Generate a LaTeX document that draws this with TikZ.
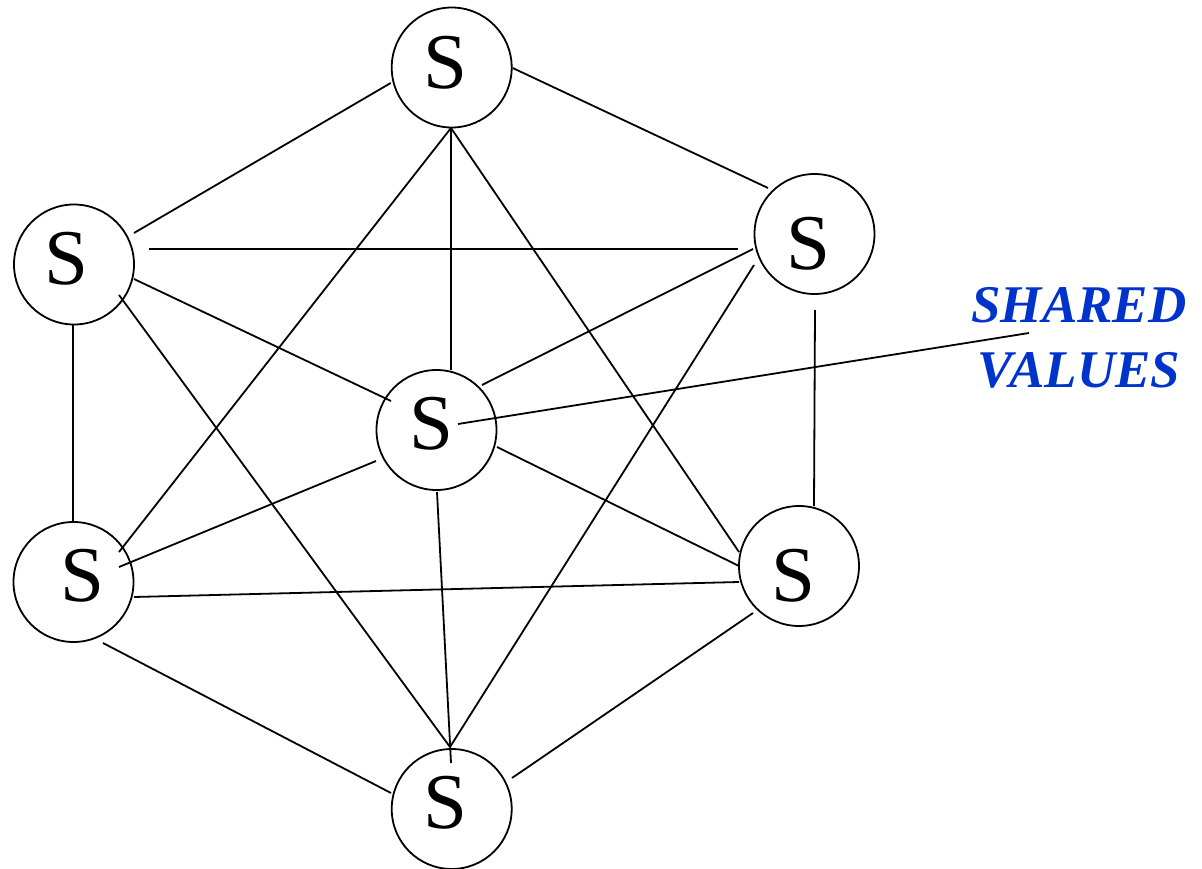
\documentclass[tikz,border=0pt]{standalone}
\usepackage{fontspec}
\setmainfont{Liberation Serif}
\definecolor{labblue}{RGB}{0,51,204}
\begin{document}
\begin{tikzpicture}[x=1pt,y=-1pt,
  sn/.style={circle,draw,line width=1.8pt,minimum size=120pt,inner sep=0pt},
  stxt/.style={font=\fontsize{79}{79}\selectfont,inner sep=0pt},
  edge/.style={line width=1.8pt},
]
\useasboundingbox (0,0) rectangle (1202,869);
% nodes
\node[sn,label={[stxt,xshift=-6.7pt,yshift=4.5pt]center:S}] (t) at (451.7,67.5) {};
\node[sn,label={[stxt,xshift=-7.5pt,yshift=6pt]center:S}] (ul) at (74,264.5) {};
\node[sn,label={[stxt,xshift=-6.5pt,yshift=-10pt]center:S}] (ur) at (814.5,234) {};
\node[sn,label={[stxt,xshift=-5.5pt,yshift=6pt]center:S}] (c) at (436.5,430) {};
\node[sn,label={[stxt,xshift=9pt,yshift=6pt]center:S}] (ll) at (73.5,582) {};
\node[sn,label={[stxt,xshift=-6pt,yshift=-10pt]center:S}] (lr) at (799,566) {};
\node[sn,label={[stxt,xshift=-6.7pt,yshift=6pt]center:S}] (b) at (451.7,809) {};
% edges
\draw[edge] ([shift={(-61,15.5)}]t.center) -- ([shift={(60,-31.5)}]ul.center);
\draw[edge] ([shift={(61,0.5)}]t.center) -- ([shift={(-46.5,-46)}]ur.center);
\draw[edge] ([shift={(-0.7,60.5)}]t.center) -- ([shift={(14.5,-60)}]c.center);
\draw[edge] ([shift={(-0.7,60.5)}]t.center) -- ([shift={(45.5,-30)}]ll.center);
\draw[edge] ([shift={(-0.7,60.5)}]t.center) -- ([shift={(-60,-14)}]lr.center);
\draw[edge] ([shift={(75,-15.5)}]ul.center) -- ([shift={(-76.5,15)}]ur.center);
\draw[edge] ([shift={(60,14.5)}]ul.center) -- ([shift={(-45.5,-29)}]c.center);
\draw[edge] ([shift={(-1,60.5)}]ul.center) -- ([shift={(-0.5,-60)}]ll.center);
\draw[edge] ([shift={(45,30.5)}]ul.center) -- ([shift={(-1.7,-62)}]b.center);
\draw[edge] ([shift={(-61.5,15)}]ur.center) -- ([shift={(45.5,-45)}]c.center);
\draw[edge] ([shift={(0.5,76)}]ur.center) -- ([shift={(15,-60)}]lr.center);
\draw[edge] ([shift={(-60.5,31)}]ur.center) -- ([shift={(-1.7,-62)}]b.center);
\draw[edge] ([shift={(-60.5,31)}]c.center) -- ([shift={(45.5,-15)}]ll.center);
\draw[edge] ([shift={(60.5,17)}]c.center) -- ([shift={(-60,0)}]lr.center);
\draw[edge] ([shift={(0.5,62)}]c.center) -- ([shift={(-0.7,-46)}]b.center);
\draw[edge] ([shift={(60.5,15)}]ll.center) -- ([shift={(-60,16)}]lr.center);
\draw[edge] ([shift={(29.5,61)}]ll.center) -- ([shift={(-60.7,-16)}]b.center);
\draw[edge] ([shift={(-46,47)}]lr.center) -- ([shift={(60.3,-31)}]b.center);
% label and pointer
\node[font=\fontsize{53}{65}\selectfont\bfseries\itshape, text=labblue, align=center, inner sep=0pt] (sv) at (1079,338) {SHARED\\VALUES};
\coordinate (ptr) at (1029,333);
\draw[edge] ([shift={(21.5,-6)}]c.center) -- (ptr);
\end{tikzpicture}
\end{document}
